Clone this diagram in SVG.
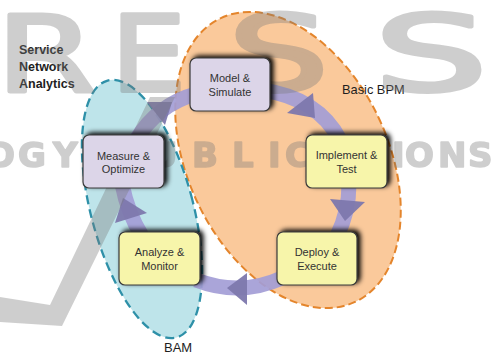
<svg xmlns="http://www.w3.org/2000/svg" width="495" height="356" viewBox="0 0 495 356">
<defs>
<style>
.node rect{stroke:#3a3a3a;stroke-width:1.2;filter:url(#sh)}
.purple rect{fill:#dcd5e8}
.yellow rect{fill:#f7f5aa}
.node text{font-family:"Liberation Sans",Arial,sans-serif;font-size:11px;fill:#333;text-anchor:middle}
.band{fill:none;stroke:#a39dd6;stroke-width:15;opacity:0.92}
.head{fill:#7d78ad;opacity:0.95}
.lbl{font-family:"Liberation Sans",Arial,sans-serif;fill:#1e1e1e}
.wm{fill:#7a7a7a;opacity:0.36}
.wmt{font-family:"DejaVu Sans",sans-serif;stroke:#7a7a7a;stroke-linejoin:round}
</style>
<filter id="sh" x="-30%" y="-40%" width="160%" height="180%">
<feGaussianBlur in="SourceAlpha" stdDeviation="2.8"/>
<feOffset dx="3" dy="-2" result="b"/>
<feComponentTransfer><feFuncA type="linear" slope="1"/></feComponentTransfer>
<feMerge><feMergeNode/><feMergeNode in="SourceGraphic"/></feMerge>
</filter>
</defs>
<rect width="495" height="356" fill="#fff"/>

<g id="regions">
<ellipse id="basic-bpm" cx="288" cy="160" rx="100" ry="157" transform="rotate(-25.5 288 160)" fill="#fac99b" stroke="#e4852c" stroke-width="2" stroke-dasharray="8 4"/>
<ellipse id="bam" cx="142" cy="209" rx="51" ry="133" transform="rotate(-15 142 209)" fill="#bee4ea" stroke="#2e90a8" stroke-width="2.3" stroke-dasharray="9 5"/>
</g>

<g id="labels" class="lbl">
<text x="19" y="54" font-size="12.5" font-weight="bold">Service</text>
<text x="19" y="71" font-size="12.5" font-weight="bold">Network</text>
<text x="19" y="88" font-size="12.5" font-weight="bold">Analytics</text>
<text x="342" y="94" font-size="12.8">Basic BPM</text>
<text x="164" y="352" font-size="13">BAM</text>
</g>

<g id="connectors">
<path class="band" d="M 262 90 Q 318 98 340 140"/>
<path class="band" d="M 349 184 Q 349 212 337 236"/>
<path class="band" d="M 282 278 Q 240 297 196 280"/>
<path class="band" d="M 142 236 Q 128 214 122 184"/>
<path class="band" d="M 136 140 Q 158 104 196 94"/>
<polygon class="head" points="287,113 313,93 315,118"/>
<polygon class="head" points="330,199 365,202 345,221"/>
<polygon class="head" points="227,288 247,273 247,305"/>
<polygon class="head" points="115,223 123,198 147,213"/>
<polygon class="head" points="147,102 172,102 165,125"/>
</g>

<g id="watermark" class="wm">
<text class="wmt" x="-4" y="91" font-size="106" stroke-width="4" textLength="100" lengthAdjust="spacingAndGlyphs">R</text>
<text class="wmt" x="111" y="91" font-size="106" stroke-width="4" textLength="75" lengthAdjust="spacingAndGlyphs">E</text>
<text class="wmt" x="228" y="91" font-size="106" stroke-width="4" textLength="101" lengthAdjust="spacingAndGlyphs">S</text>
<text class="wmt" x="374" y="91" font-size="106" stroke-width="4" textLength="114" lengthAdjust="spacingAndGlyphs">S</text>
<text class="wmt" y="167" font-size="34" font-weight="bold" stroke-width="1.6" x="-14 18 53 90 115 150 192 232 268 285 317 356 392 405 438 468">OGY PUBLICATIONS</text>
<polygon points="150,97 175,97 62,326 0,322 0,297 50,305"/>
</g>

<g id="model-simulate" class="node purple">
<rect x="190" y="58" width="80" height="53" rx="6"/>
<text x="230" y="82">Model &amp;</text>
<text x="230" y="96">Simulate</text>
</g>
<g id="implement-test" class="node yellow">
<rect x="306" y="135" width="81" height="53" rx="6"/>
<text x="346.5" y="159">Implement &amp;</text>
<text x="346.5" y="173">Test</text>
</g>
<g id="deploy-execute" class="node yellow">
<rect x="277" y="232" width="80" height="53" rx="6"/>
<text x="317" y="256">Deploy &amp;</text>
<text x="317" y="270">Execute</text>
</g>
<g id="analyze-monitor" class="node yellow">
<rect x="119" y="232" width="81" height="53" rx="6"/>
<text x="159.5" y="256">Analyze &amp;</text>
<text x="159.5" y="270">Monitor</text>
</g>
<g id="measure-optimize" class="node purple">
<rect x="83" y="135" width="81" height="53" rx="6"/>
<text x="123.5" y="160">Measure &amp;</text>
<text x="123.5" y="173">Optimize</text>
</g>
</svg>
